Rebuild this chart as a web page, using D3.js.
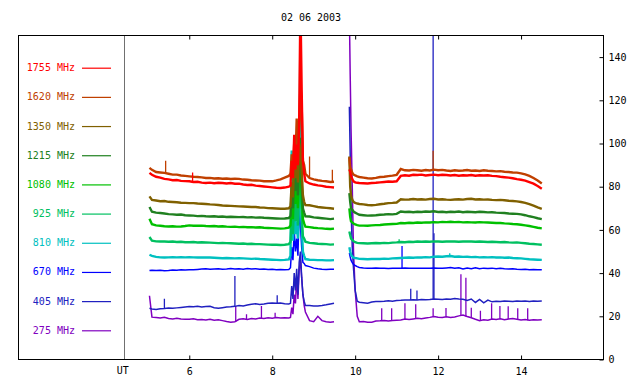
<!DOCTYPE html>
<html>
<head>
<meta charset="utf-8">
<script src="https://cdn.jsdelivr.net/npm/d3@7"></script>
<style>
  body { margin: 0; background: #fff; }
  svg { display: block; }
  text { font-family: 'DejaVu Sans Mono', monospace; font-size: 10px; fill: #000; }
</style>
</head>
<body>
<svg id="chart" width="640" height="384"></svg>
<script>
'use strict';

/* ── data ────────────────────────────────── */
const title = '02 06 2003';
const channels = ['1755 MHz', '1620 MHz', '1350 MHz', '1215 MHz', '1080 MHz',
                  '925 MHz', '810 MHz', '670 MHz', '405 MHz', '275 MHz'];
const colors = ['#ff0000', '#c04000', '#806000', '#208020', '#00c000',
                '#00c060', '#00c0c0', '#0000ff', '#2020c0', '#8000c0'];
const xTicks = [6, 8, 10, 12, 14];
const yTicks = [0, 20, 40, 60, 80, 100, 120, 140];
const utHour = 4.435;

// UT hours shared by every channel (9.67 = data gap)
const hours = [
  5.04, 5.1, 5.2, 5.3, 5.4, 5.5, 5.6, 5.7, 5.8, 5.9,
  6.0, 6.1, 6.2, 6.3, 6.4, 6.5, 6.6, 6.7, 6.8, 6.9,
  7.0, 7.1, 7.2, 7.3, 7.4, 7.5, 7.6, 7.7, 7.8, 7.9,
  8.0, 8.1, 8.2, 8.3, 8.4,
  8.44, 8.47, 8.5, 8.53, 8.56, 8.59, 8.62, 8.65, 8.68, 8.71, 8.74, 8.77, 8.8,
  8.9, 9.0, 9.1, 9.2, 9.3, 9.4, 9.49, 9.67,
  9.86, 9.88, 9.9, 9.93, 9.96, 10.0, 10.05, 10.1,
  10.2, 10.3, 10.4, 10.5, 10.6, 10.7, 10.8, 10.9, 11.0, 11.1,
  11.2, 11.3, 11.4, 11.5, 11.6, 11.7, 11.8, 11.9, 12.0, 12.1,
  12.2, 12.3, 12.4, 12.5, 12.6, 12.7, 12.8, 12.9, 13.0, 13.1,
  13.2, 13.3, 13.4, 13.5, 13.6, 13.7, 13.8, 13.9, 14.0, 14.1,
  14.2, 14.3, 14.4, 14.5
];

const v1755 = [
  86.4, 85.5, 84.6, 84.2, 83.6, 83.4, 83.0, 83.1, 82.7, 82.6,
  82.5, 82.2, 82.3, 81.9, 81.7, 81.9, 81.6, 81.8, 81.7, 81.5,
  81.7, 81.4, 81.4, 81.0, 80.8, 80.9, 80.5, 80.3, 80.1, 79.9,
  79.7, 79.5, 79.4, 79.6, 80.0,
  80.5, 92, 84, 104, 88, 99.5, 90, 111, 165, 125, 92, 86, 82.5,
  81.5, 81.0, 80.6, 80.4, 80.0, 79.8, 79.6, null,
  88, 87, 85, 83.5, 82.5, 82, 81.8, 81.7,
  81.6, 81.5, 81.7, 81.8, 82.0, 82.2, 82.4, 82.3, 82.5, 85.0,
  85.3, 85.1, 85.5, 85.4, 85.6, 85.2, 85.4, 85.6, 85.3, 85.5,
  85.4, 85.2, 85.4, 85.1, 85.3, 85.2, 85.4, 85.1, 85.3, 85.2,
  85.3, 85.0, 84.9, 84.6, 84.4, 84.2, 83.9, 83.5, 83.2, 82.8,
  82.1, 81.4, 80.3, 79.0
];
const v1620 = [
  88.7, 87.8, 86.8, 86.6, 86.4, 86.0, 85.6, 85.6, 85.2, 85.0,
  84.8, 84.6, 84.5, 84.3, 84.0, 84.1, 83.8, 83.9, 83.7, 83.8,
  83.6, 83.7, 83.6, 83.3, 83.2, 83.0, 82.9, 82.8, 82.5, 82.6,
  82.5, 82.9, 83.4, 84.2, 85.0,
  86, 95, 88, 100, 92, 111.5, 96, 104, 128, 118, 92, 90, 86,
  84.0, 83.4, 83.0, 82.7, 82.5, 82.2, 82.3, null,
  93.6, 89, 88, 86.5, 85.6, 85.2, 84.8, 84.5,
  84.2, 83.9, 83.8, 84.1, 84.5, 84.6, 84.9, 85.1, 85.5, 88.2,
  87.6, 87.5, 87.8, 87.6, 87.4, 87.7, 87.5, 87.9, 87.6, 87.8,
  87.5, 87.3, 87.6, 87.4, 87.5, 87.7, 87.4, 87.5, 87.3, 87.6,
  87.4, 87.3, 87.1, 87.2, 86.9, 86.8, 86.6, 86.5, 86.2, 85.7,
  85.0, 84.0, 82.9, 81.5
];
const v1350 = [
  75.5, 73.9, 73.6, 73.3, 73.4, 73.0, 72.9, 72.8, 72.6, 72.5,
  72.4, 72.4, 72.2, 72.1, 72.0, 71.8, 71.7, 71.5, 71.3, 71.2,
  71.1, 71.0, 70.9, 70.8, 70.7, 70.6, 70.6, 70.4, 70.3, 70.1,
  70.0, 69.9, 69.8, 69.8, 70.0,
  71, 82, 75, 95, 84, 92, 82, 100, 96, 88, 76, 73, 71.5,
  71.4, 71.0, 70.6, 70.4, 70.2, 70.0, 69.8, null,
  94, 80, 76, 74, 73, 72.5, 72.2, 72.0,
  71.8, 71.5, 71.4, 71.6, 71.9, 72.1, 72.4, 72.5, 72.7, 74.2,
  74.0, 74.1, 74.3, 74.1, 74.2, 74.0, 74.3, 74.4, 74.1, 74.2,
  74.0, 73.9, 74.1, 74.2, 74.0, 74.3, 74.4, 74.1, 74.2, 74.0,
  74.1, 73.9, 73.8, 73.9, 73.7, 73.5, 73.4, 73.2, 72.9, 72.5,
  71.9, 71.2, 70.4, 69.7
];
const v1215 = [
  70.6, 68.4, 68.0, 67.8, 67.6, 67.3, 67.2, 67.0, 67.1, 66.8,
  66.7, 66.6, 66.4, 66.5, 66.3, 66.2, 66.3, 66.1, 66.2, 66.0,
  66.1, 66.0, 65.9, 66.0, 65.8, 65.9, 65.7, 65.8, 65.6, 65.5,
  65.4, 65.3, 65.2, 65.3, 65.5,
  66.5, 78, 70, 90, 78, 86, 76, 97, 102.7, 82, 70, 68, 66.3,
  66.2, 65.8, 65.6, 65.4, 65.2, 65.0, 65.2, null,
  77, 73, 70, 69.3, 68.5, 68, 67.5, 67,
  66.8, 66.6, 66.7, 66.8, 67.0, 67.1, 67.3, 67.2, 67.4, 68.5,
  68.3, 68.4, 68.2, 68.4, 68.3, 68.5, 68.4, 68.6, 68.3, 68.4,
  68.2, 68.4, 68.3, 68.5, 68.2, 68.4, 68.3, 68.2, 68.4, 68.3,
  68.1, 68.2, 68.0, 67.9, 67.8, 67.6, 67.5, 67.4, 67.2, 66.8,
  66.3, 65.9, 65.4, 65.0
];
const v1080 = [
  65.2, 62.6, 62.1, 61.9, 61.7, 61.6, 61.7, 61.5, 61.6, 61.8,
  62.1, 61.9, 61.9, 62.0, 61.8, 61.7, 61.8, 61.6, 61.7, 61.5,
  61.4, 61.5, 61.3, 61.4, 61.2, 61.3, 61.1, 61.2, 61.0, 60.9,
  60.8, 60.7, 60.6, 60.7, 61.0,
  62, 72, 65, 84, 72, 80, 70, 90, 95, 76, 65, 63, 61.5,
  61.3, 61.0, 60.8, 60.7, 60.5, 60.4, 60.6, null,
  70, 66, 64, 63.5, 63, 62.5, 62.2, 62,
  62.0, 61.9, 62.1, 62.2, 62.3, 62.5, 62.6, 62.7, 62.8, 63.2,
  63.1, 63.3, 63.2, 63.4, 63.3, 63.5, 63.4, 63.6, 63.5, 63.7,
  63.6, 63.8, 63.6, 63.7, 63.5, 63.6, 63.5, 63.4, 63.6, 63.5,
  63.4, 63.3, 63.2, 63.2, 63.0, 62.9, 62.7, 62.6, 62.4, 62.1,
  61.8, 61.4, 61.0, 60.7
];
const v925 = [
  56.7, 55.0, 54.7, 54.6, 54.6, 54.5, 54.6, 54.4, 54.5, 54.3,
  54.3, 54.4, 54.2, 54.3, 54.2, 54.1, 54.0, 53.9, 54.0, 53.9,
  53.8, 53.7, 53.6, 53.7, 53.5, 53.6, 53.4, 53.4, 53.3, 53.2,
  53.1, 53.1, 53.0, 53.1, 53.4,
  54.5, 66, 58, 76, 64, 72, 62, 82, 86, 68, 57, 56, 54.5,
  54.0, 53.8, 53.6, 53.5, 53.4, 53.2, 53.3, null,
  59.3, 57.5, 56, 55.4, 54.8, 54.3, 54.0, 53.9,
  53.8, 53.7, 53.8, 53.9, 53.8, 54.0, 53.9, 54.1, 54.2, 54.4,
  54.3, 54.5, 54.4, 54.6, 54.5, 54.6, 54.5, 54.7, 54.6, 54.5,
  54.6, 54.7, 54.6, 54.5, 54.6, 54.7, 54.6, 54.5, 54.6, 54.5,
  54.4, 54.5, 54.4, 54.3, 54.4, 54.2, 54.1, 54.2, 54.0, 53.8,
  53.6, 53.5, 53.3, 53.1
];
const v810 = [
  48.5, 48.0, 47.5, 47.3, 47.2, 47.3, 47.4, 47.3, 47.4, 47.3,
  47.4, 47.3, 47.2, 47.3, 47.2, 47.2, 47.1, 47.0, 46.9, 47.0,
  46.9, 46.8, 46.9, 46.8, 46.7, 46.6, 46.7, 46.5, 46.4, 46.3,
  46.2, 46.1, 46.0, 46.1, 46.3,
  48, 96.7, 55, 70, 58, 64, 56, 75, 155, 62, 50, 48, 46.5,
  46.2, 46.1, 46.0, 46.0, 45.9, 45.9, 46.0, null,
  52, 50, 48.5, 47.7, 47.2, 47.0, 46.8, 46.6,
  46.5, 46.4, 46.5, 46.6, 46.5, 46.7, 46.6, 46.8, 46.9, 47.0,
  47.1, 47.2, 47.1, 47.3, 47.2, 47.4, 47.3, 47.6, 47.7, 47.6,
  47.8, 47.9, 47.6, 47.7, 47.5, 47.6, 47.4, 47.5, 47.3, 47.4,
  47.3, 47.4, 47.2, 47.3, 47.1, 47.2, 47.0, 46.9, 46.8, 46.6,
  46.4, 46.3, 46.2, 46.1
];
const v670 = [
  41.2, 41.3, 41.2, 41.3, 41.1, 41.2, 41.4, 41.3, 41.5, 41.4,
  41.6, 41.5, 41.7, 41.9, 42.0, 41.8, 41.9, 42.0, 41.8, 41.9,
  42.1, 41.9, 42.0, 41.8, 42.1, 41.9, 42.0, 41.8, 41.9, 41.7,
  41.8, 41.6, 41.7, 41.6, 41.7,
  42.5, 52, 46, 60, 50, 56, 48, 70, 62, 52, 45, 44.5, 43.5,
  43.0, 42.3, 42.0, 41.8, 41.7, 41.8, 41.8, null,
  49.3, 47.5, 46, 44.8, 44, 43.5, 43, 42.6,
  42.4, 42.3, 42.2, 42.4, 42.2, 42.3, 42.1, 42.2, 42.3, 42.2,
  42.4, 42.3, 42.2, 42.3, 42.2, 42.3, 42.2, 42.4, 42.3, 42.2,
  42.4, 42.6, 42.2, 42.5, 41.9, 42.4, 42.0, 42.5, 42.0, 42.3,
  42.1, 42.3, 42.0, 42.2, 42.0, 41.9, 42.0, 41.8, 41.7, 41.8,
  41.6, 41.7, 41.6, 41.5
];
const v405 = [
  23.7, 23.4, 23.2, 23.5, 23.6, 23.8, 23.7, 23.9, 24.1, 24.3,
  24.5, 24.4, 24.6, 24.3, 24.5, 24.6, 24.0, 23.7, 24.0, 24.3,
  24.4, 24.6, 25.0, 24.8, 25.2, 25.6, 25.8, 25.5, 25.7, 26.0,
  26.2, 26.0, 26.1, 25.8, 25.7,
  26, 34, 28, 40, 32, 42, 30, 45, 50, 38, 30, 27, 25,
  25.0, 24.8, 24.8, 25.0, 25.3, 25.7, 26.0, null,
  117, 95, 70, 52, 42, 32, 27, 26.5,
  26.3, 26.1, 26.6, 26.8, 26.9, 27.0, 27.2, 27.0, 27.3, 27.4,
  27.6, 27.5, 27.7, 27.6, 27.8, 27.7, 27.8, 28.0, 27.9, 27.8,
  28.0, 27.9, 28.2, 28.0, 27.9, 27.3, 28.0, 26.4, 27.8, 26.2,
  27.5, 26.7, 27.0, 26.8, 27.1, 27.0, 26.9, 27.1, 27.0, 27.1,
  26.9, 27.1, 27.0, 27.1
];
const v275 = [
  29.5, 19.6, 19.4, 19.2, 19.5, 19.0, 18.8, 19.1, 18.7, 18.6,
  18.6, 18.9, 18.4, 18.5, 18.3, 18.6, 18.2, 18.4, 18.0, 17.6,
  17.3, 17.5, 18.6, 18.9, 18.5, 19.0, 18.8, 19.2, 19.0, 19.3,
  19.1, 19.4, 19.2, 19.3, 19.2,
  19.5, 24, 21, 30, 26, 38, 28, 41.5, 46, 38, 30, 25, 22,
  18.0, 17.5, 20.0, 18.0, 17.5, 17.3, 17.5, null,
  160, 132, 107, 80, 50, 32, 20, 17.5,
  17.6, 17.2, 17.3, 17.8, 17.9, 18.1, 17.8, 18.0, 18.2, 18.3,
  18.7, 18.5, 18.8, 19.1, 18.9, 19.2, 19.5, 19.9, 19.6, 19.4,
  19.8, 19.5, 19.7, 20.2, 20.6, 19.9, 19.3, 18.6, 18.0, 18.4,
  18.2, 18.7, 18.5, 18.9, 18.4, 18.8, 19.0, 18.6, 18.3, 18.5,
  18.2, 18.4, 18.3, 18.4
];

// short single-sample spikes: [hour, peak value]
const s1755 = [[6.08, 86.6]];
const s1620 = [[5.43, 92], [8.9, 94], [9.45, 87.9], [11.88, 96.7]];
const s1350 = [];
const s1215 = [];
const s1080 = [];
const s925  = [[11.06, 55.7]];
const s810  = [[12.28, 49.2]];
const s670  = [[11.13, 52.6]];
const s405  = [[5.4, 28.1], [7.1, 38.7], [8.12, 29.7], [11.34, 32.7], [11.49, 31.9],
               [11.88, 160], [11.9, 58.5]];
const s275  = [[7.12, 24.8], [7.38, 21], [7.74, 24.8], [8.07, 21.7], [10.64, 23.7],
               [10.88, 23.7], [11.2, 26], [11.46, 25.6], [11.88, 23.7], [12.19, 23.9],
               [12.55, 39.5], [12.67, 37.9], [12.8, 24], [13.02, 22.6], [13.29, 26],
               [13.49, 24.8], [13.69, 24.6], [13.92, 23.7], [14.16, 23.7]];

const valueLists = [v1755, v1620, v1350, v1215, v1080, v925, v810, v670, v405, v275];
const spikeLists = [s1755, s1620, s1350, s1215, s1080, s925, s810, s670, s405, s275];

/* ── layout ──────────────────────────────── */
const L = 18, R = 604, T = 35, B = 359.5;

const svg = d3.select('#chart');

const x = d3.scaleLinear().domain([1.87, 16]).range([L, R]);
const y = d3.scaleLinear().domain([0, 150]).range([B, T + 0.5]);
const legendY = d3.scalePoint().domain(channels).range([67.7, 330.3]);

svg.append('defs').append('clipPath').attr('id', 'plot-clip')
  .append('rect').attr('x', L).attr('y', T).attr('width', R - L).attr('height', B - T);

// title
svg.append('text')
  .attr('x', (L + R) / 2).attr('y', 17.5).attr('dy', '0.35em')
  .attr('text-anchor', 'middle')
  .text(title);

// UT marker line
svg.append('line')
  .attr('x1', Math.round(x(utHour)) + 0.5).attr('x2', Math.round(x(utHour)) + 0.5)
  .attr('y1', T).attr('y2', B)
  .attr('stroke', '#707070').attr('stroke-width', 1);

svg.append('text')
  .attr('x', x(utHour) - 1.5).attr('y', 370.5).attr('dy', '0.35em')
  .attr('text-anchor', 'middle')
  .text('UT');

/* ── series ──────────────────────────────── */
const line = d3.line()
  .defined(d => d[1] != null)
  .x(d => x(d[0]))
  .y(d => y(d[1]));

const bis = d3.bisector(d => d).center;

const plot = svg.append('g').attr('clip-path', 'url(#plot-clip)');

// low frequencies first so the red channel ends on top
d3.range(channels.length).reverse().forEach(i => {
  const vals = valueLists[i];
  const pts = hours.map((h, k) => [h, vals[k]]);
  const g = plot.append('g');

  g.append('path')
    .attr('d', line(pts))
    .attr('fill', 'none')
    .attr('stroke', colors[i])
    .attr('stroke-width', i >= 7 ? 1.5 : 2.4)
    .attr('stroke-linejoin', 'miter');

  g.selectAll('line').data(spikeLists[i]).join('line')
    .attr('x1', d => x(d[0])).attr('x2', d => x(d[0]))
    .attr('y1', d => y(vals[bis(hours, d[0])]))
    .attr('y2', d => y(d[1]))
    .attr('stroke', colors[i])
    .attr('stroke-width', 1.3);
});

/* ── legend ──────────────────────────────── */
const leg = svg.append('g').selectAll('g').data(channels).join('g')
  .attr('transform', d => `translate(0,${legendY(d)})`);

leg.append('text')
  .attr('x', 75).attr('dy', '0.35em')
  .attr('text-anchor', 'end')
  .style('fill', (d, i) => colors[i])
  .text(d => d);

leg.append('line')
  .attr('x1', 82).attr('x2', 111)
  .attr('y1', 0.5).attr('y2', 0.5)
  .attr('stroke', (d, i) => colors[i])
  .attr('stroke-width', 1.2);

/* ── axes ────────────────────────────────── */
const axBottom = svg.append('g')
  .attr('transform', `translate(0,${B})`)
  .call(d3.axisBottom(x).tickValues(xTicks).tickSize(-4).tickPadding(8).tickFormat(d3.format('d')));
const axTop = svg.append('g')
  .attr('transform', `translate(0,${T + 0.5})`)
  .call(d3.axisTop(x).tickValues(xTicks).tickSize(-4).tickFormat(''));
const axRight = svg.append('g')
  .attr('transform', `translate(${R - 0.5},0)`)
  .call(d3.axisRight(y).tickValues(yTicks).tickSize(-4).tickPadding(5));

[axBottom, axTop, axRight].forEach(a => {
  a.select('.domain').remove();
  a.selectAll('line').attr('stroke', '#000');
  a.selectAll('text')
    .style('font-family', "'DejaVu Sans Mono', monospace")
    .style('font-size', '10px')
    .attr('fill', '#000');
});

// frame
svg.append('rect')
  .attr('x', L + 0.5).attr('y', T + 0.5)
  .attr('width', R - L - 1).attr('height', B - T - 0.5)
  .attr('fill', 'none')
  .attr('stroke', '#000').attr('stroke-width', 1);
</script>
</body>
</html>
